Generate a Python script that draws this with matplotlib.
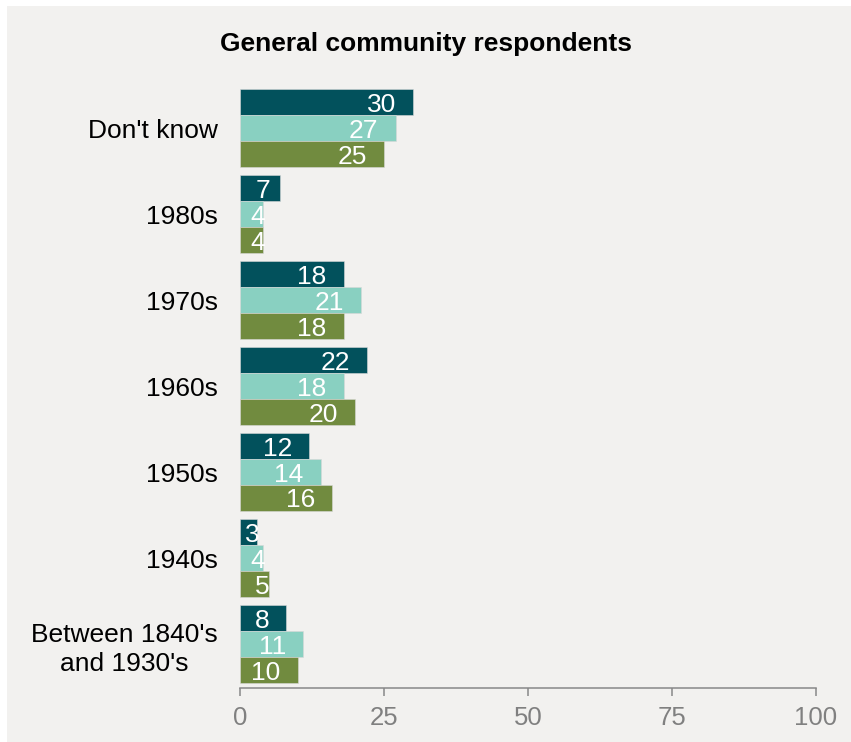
import numpy as np
import matplotlib
matplotlib.use('Agg')
import matplotlib.pyplot as plt
from matplotlib.patches import Rectangle

# data, top to bottom
categories = ["Don't know", "1980s", "1970s", "1960s", "1950s", "1940s",
              "Between 1840's\nand 1930's"]
series_a = [30, 7, 18, 22, 12, 3, 8]
series_b = [27, 4, 21, 18, 14, 4, 11]
series_c = [25, 4, 18, 20, 16, 5, 10]
x_ticks = [0, 25, 50, 75, 100]

colors = ['#02515c', '#89d0c1', '#718b3f']
bg = '#f2f1ef'

plt.rcParams['font.family'] = ['Liberation Sans', 'DejaVu Sans']

W, H = 851, 742
fig = plt.figure(figsize=(W / 100, H / 100), dpi=100, facecolor='white')
fig.patches.append(Rectangle((7 / W, 0), 1 - 7 / W, 1 - 6 / H,
                             transform=fig.transFigure, facecolor=bg,
                             edgecolor='none', zorder=-10))

# axes in pixel terms: x 240..816, y 89..688
ax = fig.add_axes([240 / W, 1 - 688 / H, 576 / W, 599 / H])
ax.set_facecolor('none')

gap = 86.0
bh = 26 / gap
pos = np.arange(len(categories))
for k, (vals, col) in enumerate(zip([series_a, series_b, series_c], colors)):
    y = pos + (k - 1) * bh
    ax.barh(y, vals, height=bh, color=col, edgecolor='#d8d8d8',
            linewidth=0.4)
    for yi, v in zip(y, vals):
        xr = min(max(v - 2.95, 5.2), v + 0.35)
        ax.text(xr, yi, str(v), ha='right', va='center_baseline',
                color='white', fontsize=19)

ax.set_xlim(0, 100)
top = -39 / gap
ax.set_ylim(top + 599 / gap, top)
ax.set_xticks(x_ticks)
ax.set_yticks(pos)
ax.set_yticklabels(categories, fontsize=19, color='black')
for t in ax.get_yticklabels():
    t.set_multialignment('center')
    t.set_linespacing(1.3)
ax.tick_params(axis='y', length=0, pad=16)
ax.tick_params(axis='x', length=6, width=1.1, color='#888888',
               labelcolor='#808080', labelsize=18.5, pad=7)

for s in ['top', 'right', 'left']:
    ax.spines[s].set_visible(False)
ax.spines['bottom'].set_color('#888888')
ax.spines['bottom'].set_linewidth(1.1)

fig.text(0.5, 1 - 44 / H, 'General community respondents', ha='center',
         va='center', fontsize=19, fontweight='bold')

fig.savefig('out.png', dpi=100, facecolor=fig.get_facecolor())
